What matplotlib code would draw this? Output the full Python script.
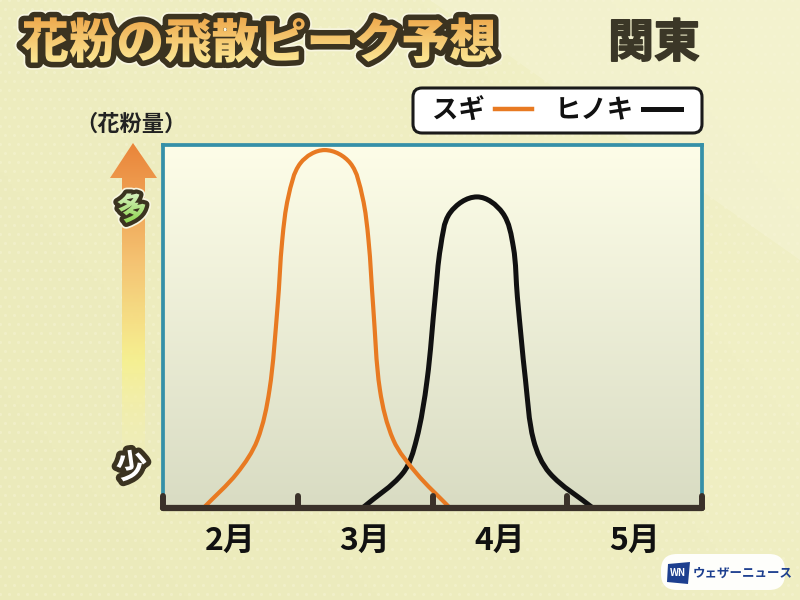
#
# Kanto pollen peak forecast chart (sugi / hinoki)
#
import numpy as np
import matplotlib
matplotlib.use('Agg')
import matplotlib.pyplot as plt
import matplotlib.patheffects as pe
from matplotlib.path import Path
from matplotlib.patches import PathPatch, FancyBboxPatch, Polygon
from matplotlib.textpath import TextPath
from matplotlib.font_manager import FontProperties
from matplotlib.transforms import Affine2D

plt.rcParams['font.family'] = ['Noto Sans CJK JP', 'DejaVu Sans']

# x in months from start of Feb (0) to start of Jun (4), y = relative pollen amount
sugi_x = [0.30, 0.55, 0.70, 0.79, 0.85, 0.885, 0.93, 1.02, 1.20,
          1.39, 1.48, 1.525, 1.56, 1.61, 1.71, 1.88, 2.13]
sugi_y = [0, 9.6, 18.7, 32.5, 55.4, 73.8, 85.7, 95.0, 98.6,
          95.0, 85.7, 73.8, 55.4, 32.5, 18.7, 9.6, 0]
hinoki_x = [1.48, 1.78, 1.88, 1.96, 2.02, 2.06, 2.13, 2.33,
            2.52, 2.60, 2.63, 2.69, 2.75, 2.87, 3.19]
hinoki_y = [0, 9.6, 18.7, 35.3, 58.1, 71.9, 81.3, 85.7,
            81.3, 71.9, 58.1, 35.3, 18.7, 9.6, 0]
month_ticks = [0, 1, 2, 3, 4]
month_labels = ['2月', '3月', '4月', '5月']

title = '花粉の飛散ピーク予想'
region = '関東'
series_names = ['スギ', 'ヒノキ']
series_colors = ['#e87a22', '#111111']

BROWN = '#3a3129'
TEAL = '#3590a8'
OUTLINE = '#3b3320'


def smooth_path(xs, ys, sx=134.75, sy=3.63):
    '''Smooth bezier through the read points (handles sized in screen-like units)'''
    pts = np.column_stack([np.asarray(xs) * sx, np.asarray(ys) * sy])
    n = len(pts)
    tang = np.zeros_like(pts)
    for i in range(n):
        d = pts[min(i + 1, n - 1)] - pts[max(i - 1, 0)]
        tang[i] = d / np.hypot(*d)
    verts = [pts[0]]
    codes = [Path.MOVETO]
    for i in range(n - 1):
        L = np.hypot(*(pts[i + 1] - pts[i])) / 3
        verts += [pts[i] + tang[i] * L, pts[i + 1] - tang[i + 1] * L, pts[i + 1]]
        codes += [Path.CURVE4] * 3
    verts = np.array(verts) / [sx, sy]
    return Path(verts, codes)


def grad_text(ax, s, cx, cy, size, top, bottom, lw, rot=0, fit_w=None):
    '''Outlined text with a vertical colour gradient fill, in pixel coords'''
    fp = FontProperties(family='Noto Sans CJK JP', weight='black')
    tp = TextPath((0, 0), s, size=size, prop=fp)
    bb = tp.get_extents()
    k = 1.0 if fit_w is None else fit_w / bb.width
    tr = (Affine2D().translate(-(bb.x0 + bb.x1) / 2, -(bb.y0 + bb.y1) / 2)
          .scale(k, -k).rotate_deg(rot).translate(cx, cy) + ax.transData)
    w = bb.width * k / 2 + 10
    h = bb.height * k / 2 + 10
    ax.add_patch(PathPatch(tp, transform=tr, fc='none', ec='#f8f6e0',
                           lw=lw + 2.5, joinstyle='round', zorder=5))
    ax.add_patch(PathPatch(tp, transform=tr, fc=OUTLINE, ec=OUTLINE,
                           lw=lw, joinstyle='round', zorder=6))
    clip = PathPatch(tp, transform=tr, fc='none', ec='none')
    ax.add_patch(clip)
    c0 = np.array(matplotlib.colors.to_rgb(top))
    c1 = np.array(matplotlib.colors.to_rgb(bottom))
    t = np.linspace(0, 1, 64)[:, None, None]
    grad = c0 * (1 - t) + c1 * t
    im = ax.imshow(grad, extent=[cx - w, cx + w, cy + h, cy - h],
                   aspect='auto', zorder=7, interpolation='bilinear')
    im.set_clip_path(clip)


fig = plt.figure(figsize=(8, 6), dpi=100)

# ---- background, pixel coordinates ----
bg = fig.add_axes([0, 0, 1, 1])
bg.set_xlim(0, 800)
bg.set_ylim(600, 0)
bg.axis('off')
yy, xx = np.mgrid[0:600:4, 0:800:4]
base0 = np.array(matplotlib.colors.to_rgb('#ebeaba'))
base1 = np.array(matplotlib.colors.to_rgb('#f2f1c8'))
tt = np.clip((xx / 800 * 0.6 + (600 - yy) / 600 * 0.4), 0, 1)[..., None]
bg.imshow(base0 * (1 - tt) + base1 * tt, extent=[0, 800, 600, 0],
          aspect='auto', zorder=0)
bg.add_patch(Polygon([[430, 0], [800, 0], [800, 260]], closed=True,
                     fc='#f7f6da', ec='none', alpha=0.4, zorder=0.5))
dx, dy = np.meshgrid(np.arange(0, 800, 9), np.arange(0, 600, 9))
dx = dx + (dy // 9 % 2) * 4.5
bg.scatter(dx.ravel(), dy.ravel(), s=5, c='#f7f5d6', alpha=0.45,
           lw=0, zorder=0.6)

# title and region
grad_text(bg, title, 259, 40, 48, '#eb9b3c', '#fff6a6', 8, fit_w=474)
bg.text(654, 44, region, fontsize=33, fontweight='bold', color='#3b3727',
        ha='center', va='center', zorder=6,
        path_effects=[pe.Stroke(linewidth=1.2, foreground='#3b3727'), pe.Normal()])

# legend box
bg.add_patch(FancyBboxPatch((413, 88), 289, 45,
                            boxstyle='round,pad=0,rounding_size=9',
                            fc='white', ec='#1a1a1a', lw=2.2, zorder=5))
bg.text(432, 111, series_names[0], fontsize=19, fontweight='bold', ha='left',
        va='center', color='#111111', zorder=6)
bg.plot([495, 532], [109, 109], color=series_colors[0], lw=3.2, zorder=6)
bg.text(555, 111, series_names[1], fontsize=19, fontweight='bold', ha='left',
        va='center', color='#111111', zorder=6)
bg.plot([643, 681], [109, 109], color=series_colors[1], lw=3.6, zorder=6)

# y-axis label and gradient arrow
bg.text(131, 124, '（花粉量）', fontsize=16, fontweight='bold', ha='center',
        va='center', color='#222222', zorder=6)
arrow = Polygon([[133, 143], [157, 178], [145, 178], [145, 492],
                 [122, 492], [122, 178], [110, 178]], closed=True,
                fc='none', ec='none')
bg.add_patch(arrow)
ay = np.linspace(0, 1, 128)
stops = [(0.0, '#ea853a', 1.0), (0.35, '#f5c574', 1.0),
         (0.62, '#f7f08c', 0.9), (1.0, '#f4f2c2', 0.0)]
sp = [s[0] for s in stops]
rgba = np.zeros((128, 1, 4))
for ch in range(3):
    rgba[:, 0, ch] = np.interp(ay, sp, [matplotlib.colors.to_rgb(s[1])[ch] for s in stops])
rgba[:, 0, 3] = np.interp(ay, sp, [s[2] for s in stops])
aim = bg.imshow(rgba, extent=[108, 159, 492, 143], aspect='auto', zorder=3,
                interpolation='bilinear')
aim.set_clip_path(arrow)
grad_text(bg, '多', 132, 207, 30, '#f2fbe8', '#7ccf32', 6, rot=-12)
bg.text(132, 468, '少', fontsize=23, fontweight='bold', color='white',
        ha='center', va='center', rotation=8, zorder=6,
        path_effects=[pe.Stroke(linewidth=7, foreground=OUTLINE), pe.Normal()])

# weathernews badge
bg.add_patch(FancyBboxPatch((661, 554), 124, 36,
                            boxstyle='round,pad=0,rounding_size=16',
                            fc='white', ec='none', alpha=0.95, zorder=5))
bg.add_patch(Polygon([[668, 564], [690, 562], [688, 584], [667, 582]],
                     closed=True, fc='#1d3f8f', ec='none', zorder=6))
bg.text(678, 573, 'WN', fontsize=7, fontweight='bold', style='italic',
        color='white', ha='center', va='center', zorder=7)
bg.text(693, 573, 'ウェザーニュース', fontsize=9, fontweight='bold',
        color='#1d3f8f', ha='left', va='center', zorder=7)

# ---- main chart ----
ax = fig.add_axes([163 / 800, 92 / 600, 539 / 800, 363 / 600])
ax.set_xlim(month_ticks[0], month_ticks[-1])
ax.set_ylim(0, 100)
ax.set_facecolor('none')
g0 = np.array(matplotlib.colors.to_rgb('#fdfde8'))
g1 = np.array(matplotlib.colors.to_rgb('#d9dcc3'))
gt = np.linspace(0, 1, 64)[:, None, None]
ax.imshow(g0 * (1 - gt) + g1 * gt, extent=[0, 4, 0, 100], aspect='auto',
          zorder=0, interpolation='bilinear')

ax.add_patch(PathPatch(smooth_path(hinoki_x, hinoki_y), fc='none',
                       ec=series_colors[1], lw=3.6, zorder=2))
ax.add_patch(PathPatch(smooth_path(sugi_x, sugi_y), fc='none',
                       ec=series_colors[0], lw=3.0, zorder=2.1))

for side in ['left', 'top', 'right']:
    ax.spines[side].set_color(TEAL)
    ax.spines[side].set_linewidth(2.7)
ax.spines['bottom'].set_color(BROWN)
ax.spines['bottom'].set_linewidth(4.5)
ax.spines['bottom'].set_capstyle('round')
ax.spines['bottom'].set_zorder(4)
for t in month_ticks:
    ax.plot([t, t], [0, 3.4], color=BROWN, lw=4.3, solid_capstyle='round',
            clip_on=False, zorder=4)

ax.set_yticks([])
ax.set_xticks(month_ticks, [''] * len(month_ticks))
ax.tick_params(axis='x', which='major', length=0)
ax.set_xticks([m + 0.5 for m in month_ticks[:-1]], month_labels, minor=True)
ax.tick_params(axis='x', which='minor', length=0, pad=12, labelsize=23,
               labelcolor='#111111')
for lab in ax.get_xticklabels(minor=True):
    lab.set_fontweight('bold')

fig.savefig('out.png', dpi=100)
